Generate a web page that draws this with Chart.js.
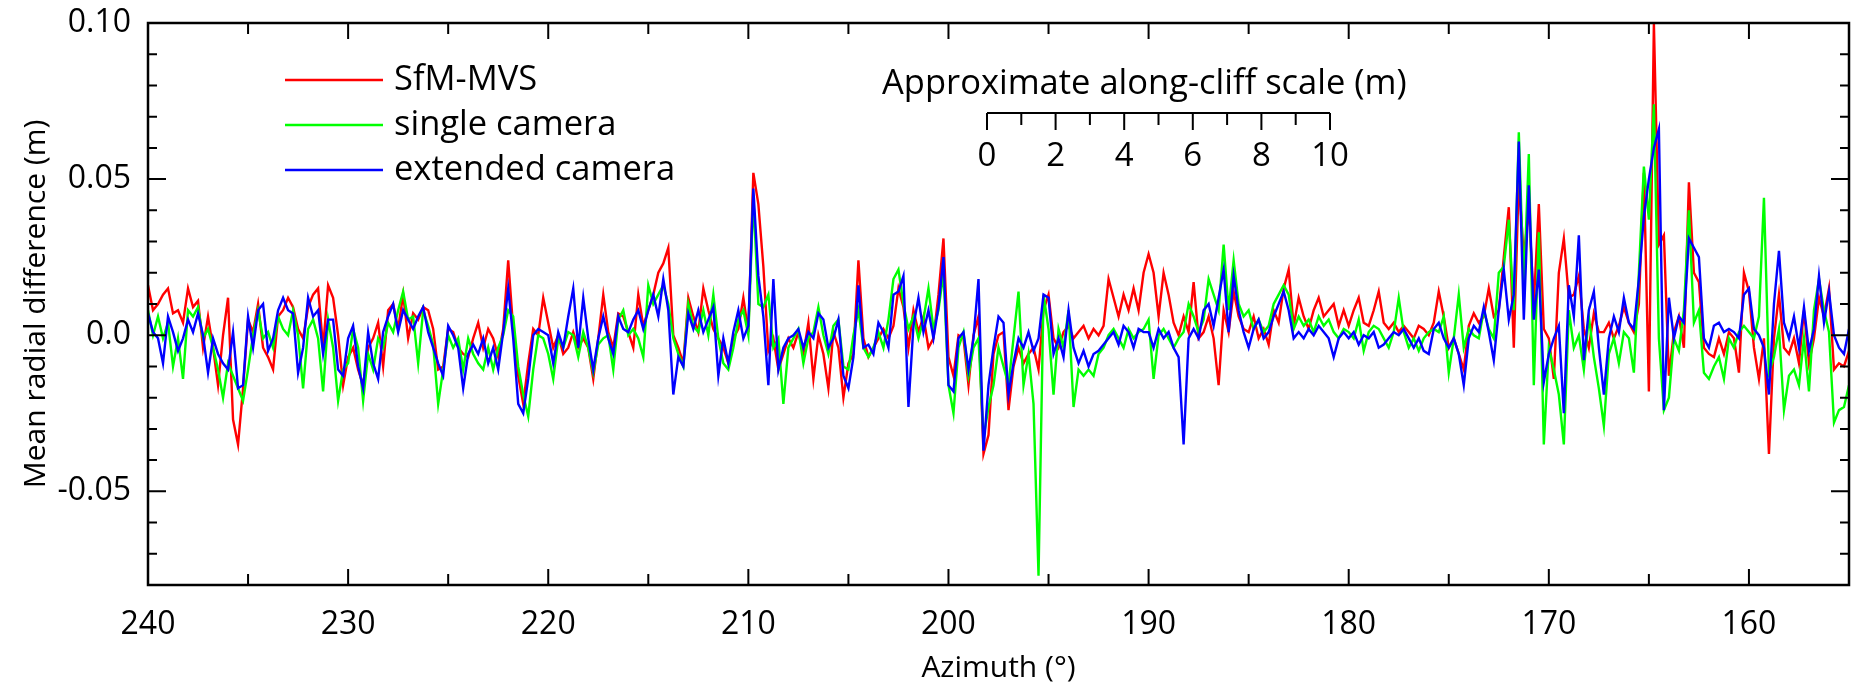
<!DOCTYPE html>
<html>
<head>
<meta charset="utf-8">
<title>Mean radial difference vs azimuth</title>
<script src="https://cdn.jsdelivr.net/npm/chart.js@4.4.1/dist/chart.umd.min.js"></script>
<style>
  html, body { margin: 0; padding: 0; background: #fff; }
  #chart { display: block; }
</style>
</head>
<body>
<canvas id="chart" width="1860" height="686"></canvas>
<script>
// --- DATA ---
// profiles sampled every 0.25 deg of azimuth, from 240 down to 155
const AZ_START = 240;
const AZ_STEP = 0.25;

// mean radial difference, in mm (converted to m when the datasets are built)
const sfmMvs = [
  16, 8, 10, 13, 15, 7, 8, 4, 15, 9, 11, -4, 6, -4, -16, 0, 12, -27, -35, -17,
  5, 1, 10, -4, -7, -11, 6, 8, 12, 9, 2, -1, 9, 13, 15, -4, 16, 12, 0, -16,
  -7, -4, -11, -16, -4, -1, 4, -10, 8, 10, 2, 13, -1, 7, 5, 9, 8, 2, -11, -10,
  2, 1, -4, -6, -7, -1, 4, -4, 2, -1, -7, 2, 24, 2, -13, -22, -9, 2, 0, 12,
  4, -4, 0, -6, -4, 1, -4, -1, -4, -14, -1, 13, 1, -4, 7, 6, 1, -4, 13, 3,
  8, 13, 20, 23, 28, 0, -4, -9, 12, 6, 1, 15, 8, 2, -1, -4, -9, -1, 2, 12,
  1, 52, 42, 22, -5, -1, -11, -6, -1, -4, 1, -6, 4, -14, 0, -6, -17, 1, -4, -20,
  -9, -6, 24, -1, -7, -4, -1, 2, -1, 3, 15, 9, -4, 8, 1, 6, -4, -1, 13, 31,
  -7, -13, 0, -1, -16, 0, 6, -38, -32, -6, 0, 1, -24, -10, -4, -9, -6, -4, -11, 8,
  13, -1, -4, 1, 3, -1, 1, 3, -1, 2, 0, 3, 18, 12, 6, 13, 8, 15, 8, 20,
  26, 20, 6, 20, 13, 4, 0, 6, 1, 17, -1, 1, 6, -1, -16, 8, 1, 14, 6, 2,
  1, 6, -1, 2, -3, 8, 4, 15, 21, 3, 12, 6, 2, 8, 12, 6, 8, 10, 3, 8,
  3, 8, 12, 4, 3, 8, 14, 4, 2, 4, 1, 3, 1, -1, 3, 2, 0, 4, 14, 6,
  -4, -1, -6, -11, 3, 7, 4, 6, 15, 6, 8, 25, 41, -4, 50, 25, 41, 10, 42, 2,
  -1, -14, 20, 31, 12, 13, 19, 2, -4, 7, 1, 1, 4, -1, 3, 9, 4, 1, 10, 52,
  -18, 100, 29, 32, -13, 1, 6, -4, 49, 20, 17, -4, -6, -7, -1, -6, 1, -1, -12, 20,
  14, -4, -14, -1, -38, -1, 13, -4, -6, -1, -9, 8, -9, -1, 12, 6, 15, -11, -9, -10, -5
];

const singleCamera = [
  8, 0, 6, -1, 4, -10, -1, -14, 8, 6, 9, -1, 2, -4, -11, -20, -9, -13, -17, -21,
  -11, 0, 8, -1, 1, -4, 6, 2, 0, 8, 0, -17, 2, 5, -1, -18, 5, -4, -21, -11,
  -9, 2, -4, -21, -6, -11, -1, -4, 4, 1, 8, 14, 5, 6, -9, 8, 3, -3, -22, -11,
  0, -4, -1, -11, -1, -6, -9, -11, -4, -11, -4, 0, 8, 6, -10, -19, -26, -11, 0, -1,
  -6, -14, -1, -4, 1, 0, -7, 1, -4, -12, -3, -1, 0, -11, 5, 8, 0, 2, -1, -7,
  16, 10, 13, 16, 10, -1, -6, -10, 10, 3, 1, 8, 0, 13, -1, -9, -11, -4, 5, 8,
  0, 44, 10, 9, 13, -4, -1, -22, -4, -1, 2, -9, -1, 1, 9, 0, -6, 3, 5, -10,
  -11, 0, 8, -4, -7, -4, 1, -4, 5, 18, 21, 10, 2, 6, -1, 5, 15, 2, 8, 20,
  -16, -25, -4, 1, -13, -4, -1, -33, -23, -16, -4, -10, -16, -1, 14, -16, -6, -22, -77, 13,
  2, -19, 2, -4, 8, -23, -11, -13, -11, -13, -6, -4, 0, 2, -1, -4, 2, -1, 1, 2,
  5, -14, 0, 2, -1, -4, -1, 1, 10, 6, 1, 5, 18, 13, 8, 29, 8, 24, 10, 6,
  8, 2, 5, 1, 3, 10, 13, 16, 13, 2, 6, 3, 5, 1, 6, 3, 5, 1, -1, 2,
  1, -1, 5, -5, 1, 3, 2, -1, -4, 1, 12, 1, -4, -1, -5, -1, 1, 2, 1, 6,
  -12, -1, 13, -4, 2, 0, -1, 8, 2, -1, 20, 22, 37, 8, 65, 15, 58, -16, 33, -35,
  -4, -11, -19, -35, 8, -4, 0, -11, 6, -7, -17, -29, -6, -1, -9, 1, -1, -12, 20, 54,
  37, 74, -1, -24, -20, -1, -5, 8, 40, 4, 8, -12, -14, -10, -7, -14, -1, -4, 1, 3,
  1, -1, 6, 44, -12, -7, 2, -24, -13, -11, -16, -1, -18, 8, 18, 8, 1, -28, -24, -23, -16
];

const extendedCamera = [
  7, 1, -1, -9, 6, 1, -5, -1, 5, 1, 7, 0, -12, -1, -6, -9, -11, 1, -17, -16,
  6, -4, 8, 10, -5, -1, 8, 12, 8, 7, -12, -4, 12, 6, 8, -6, 5, 5, -11, -13,
  -1, 3, -10, -17, 1, -9, -14, 1, 6, 10, 1, 8, 5, 2, 6, 9, 1, -4, -9, -13,
  3, 0, -4, -17, -6, -3, -6, -1, -9, -4, -11, 1, 15, -1, -22, -25, -14, 0, 2, 1,
  0, -9, 1, -4, 6, 15, -4, 12, -1, -11, -1, 6, -1, -6, 6, 2, 1, 5, 8, 2,
  8, 13, 6, 18, 8, -19, -7, -10, 7, 2, 8, 1, 5, 9, -13, -1, -9, 1, 8, -1,
  3, 47, 19, 6, -16, 18, -11, -4, -1, 0, 2, -4, 1, -1, 7, 5, -4, -1, 5, -13,
  -17, -7, 16, -4, -3, -6, 4, 1, -4, 13, 14, 19, -23, 3, 12, 1, 8, -1, 9, 25,
  -16, -18, -1, 1, -11, -1, 18, -37, -16, -4, 6, 4, -19, -9, -1, -4, 1, -5, -1, 13,
  12, -6, -1, -7, 8, -4, -9, -5, -10, -6, -5, -3, -1, 1, -3, 3, 1, -4, 2, 1,
  1, -4, 2, -1, 1, -4, -7, -35, -1, 2, -1, 8, 10, 3, 12, 21, 1, 19, 8, 1,
  -4, 2, 5, -1, 1, 6, 10, 14, 8, -1, 1, -1, 2, 0, 3, 1, -1, -7, -1, 1,
  -1, 1, -3, 0, -1, 1, -4, -3, -1, 1, 0, 2, -1, -4, -1, -5, -6, 2, 4, -1,
  -4, -1, -6, -16, -1, 3, 1, 9, 1, -8, 8, 21, 5, 13, 62, 5, 48, 5, 21, -15,
  -6, -1, 3, -25, 16, 6, 32, -8, 8, 14, -4, -19, -1, 6, 1, 12, 4, 2, 18, 38,
  50, 60, 66, -24, 12, -1, 6, 4, 31, 28, 25, -1, -4, 3, 4, 1, 2, 1, -1, 13,
  15, 2, 0, -4, -19, 10, 27, 4, -1, 6, -4, 9, -5, 2, 19, 4, 14, 0, -4, -6, 2
];

const seriesLabels = ["SfM-MVS", "single camera", "extended camera"];
const seriesColors = ["#ff0000", "#00ff00", "#0000ff"];

// axis ticks
const xTicks = [240, 230, 220, 210, 200, 190, 180, 170, 160];
const xMinorTicks = [235, 225, 215, 205, 195, 185, 175, 165];
const yTicks = [-0.05, 0, 0.05, 0.10];
const yTickLabels = ["-0.05", "0.0", "0.05", "0.10"];
const yMinorTicks = [-0.07, -0.06, -0.04, -0.03, -0.02, -0.01, 0.01, 0.02, 0.03, 0.04, 0.06, 0.07, 0.08, 0.09];

// along-cliff scale bar, metres
const scaleBarTicks = [0, 1, 2, 3, 4, 5, 6, 7, 8, 9, 10];
const scaleBarLabels = [0, 2, 4, 6, 8, 10];

// --- SETUP ---
const FONT = "'Open Sans', 'Noto Sans', sans-serif";
Chart.defaults.font.family = FONT;
Chart.defaults.color = "#000";

const azimuth = sfmMvs.map((_, i) => AZ_START - i * AZ_STEP);

function toPoints(values) {
  // pair each sample with its azimuth, mm -> m
  return values.map((v, i) => ({ x: azimuth[i], y: v / 1000 }));
}

function noEdgePadding(s) {
  // keep the plot box where the layout padding puts it
  s.paddingTop = 0;
  s.paddingBottom = 0;
  s.paddingLeft = 0;
  s.paddingRight = 0;
}

// --- PLUGINS ---
const frame = {
  id: "frame",
  afterDatasetsDraw(chart) {
    // box with inward ticks on all four sides
    const { ctx, chartArea: a, scales: { x, y } } = chart;
    ctx.save();
    ctx.strokeStyle = "#000";
    ctx.lineWidth = 2;
    ctx.beginPath();
    const markX = (v, len) => {
      const px = x.getPixelForValue(v);
      ctx.moveTo(px, a.bottom); ctx.lineTo(px, a.bottom - len);
      ctx.moveTo(px, a.top); ctx.lineTo(px, a.top + len);
    };
    const markY = (v, len) => {
      const py = y.getPixelForValue(v);
      ctx.moveTo(a.left, py); ctx.lineTo(a.left + len, py);
      ctx.moveTo(a.right, py); ctx.lineTo(a.right - len, py);
    };
    xTicks.forEach(v => markX(v, 16));
    xMinorTicks.forEach(v => markX(v, 11));
    yTicks.forEach(v => markY(v, 18));
    yMinorTicks.forEach(v => markY(v, 9));
    ctx.stroke();
    ctx.lineWidth = 2.5;
    ctx.strokeRect(a.left, a.top, a.right - a.left, a.bottom - a.top);
    ctx.restore();
  }
};

const overlay = {
  id: "overlay",
  afterDraw(chart) {
    const { ctx } = chart;
    ctx.save();
    // legend, top left
    ctx.font = "34.5px " + FONT;
    ctx.textAlign = "left";
    ctx.textBaseline = "middle";
    chart.data.datasets.forEach((ds, i) => {
      const ly = 80 + i * 45;
      ctx.strokeStyle = ds.borderColor;
      ctx.lineWidth = 2.5;
      ctx.beginPath();
      ctx.moveTo(285, ly);
      ctx.lineTo(383, ly);
      ctx.stroke();
      ctx.fillStyle = "#000";
      ctx.fillText(ds.label, 394, ly);
    });

    // along-cliff scale bar
    const x0 = 987, x1 = 1330, yb = 113;
    ctx.textBaseline = "alphabetic";
    ctx.fillText("Approximate along-cliff scale (m)", 882, 94);
    ctx.strokeStyle = "#000";
    ctx.lineWidth = 2;
    ctx.beginPath();
    ctx.moveTo(x0, yb);
    ctx.lineTo(x1, yb);
    scaleBarTicks.forEach(m => {
      const px = x0 + (x1 - x0) * m / 10;
      ctx.moveTo(px, yb);
      ctx.lineTo(px, yb + (m % 2 === 0 ? 17 : 12));
    });
    ctx.stroke();
    ctx.textAlign = "center";
    ctx.font = "33px " + FONT;
    scaleBarLabels.forEach(m => {
      ctx.fillText(String(m), x0 + (x1 - x0) * m / 10, 166);
    });
    ctx.restore();
  }
};

// --- CHART ---
new Chart(document.getElementById("chart"), {
  type: "line",
  data: {
    datasets: [sfmMvs, singleCamera, extendedCamera].map((vals, i) => ({
      label: seriesLabels[i],
      data: toPoints(vals),
      borderColor: seriesColors[i],
      borderWidth: 2.4,
      pointRadius: 0,
      tension: 0,
      fill: false,
      order: 3 - i // blue drawn on top
    }))
  },
  options: {
    responsive: false,
    animation: false,
    devicePixelRatio: 1,
    layout: { padding: { left: 0, right: 11, top: 23, bottom: 0 } },
    plugins: { legend: { display: false }, tooltip: { enabled: false } },
    scales: {
      x: {
        type: "linear",
        reverse: true,
        min: 155,
        max: 240,
        afterBuildTicks: s => { s.ticks = xTicks.map(v => ({ value: v })); },
        afterFit: s => { s.height = 101; noEdgePadding(s); },
        grid: { display: false },
        border: { display: false },
        ticks: { font: { size: 32 }, padding: 13, maxRotation: 0, autoSkip: false },
        title: { display: true, text: "Azimuth (°)", font: { size: 30 }, padding: { top: 0, bottom: 0 } }
      },
      y: {
        type: "linear",
        min: -0.08,
        max: 0.10,
        afterBuildTicks: s => { s.ticks = yTicks.map(v => ({ value: v })); },
        afterFit: s => { s.width = 148; noEdgePadding(s); },
        grid: { display: false },
        border: { display: false },
        ticks: {
          font: { size: 32 },
          padding: 9,
          callback: v => yTickLabels[yTicks.findIndex(t => Math.abs(t - v) < 1e-9)]
        },
        title: { display: true, text: "Mean radial difference (m)", font: { size: 30 }, padding: { top: 18, bottom: 0 } }
      }
    }
  },
  plugins: [frame, overlay]
});
</script>
</body>
</html>
